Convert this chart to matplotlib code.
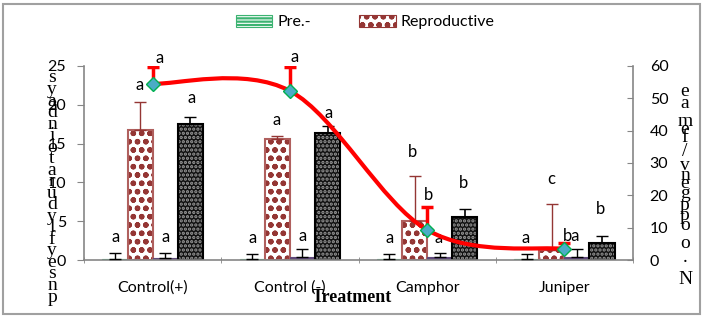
import numpy as np
import matplotlib
matplotlib.use("Agg")
import matplotlib.pyplot as plt
from matplotlib.patches import Rectangle, Patch
from matplotlib.path import Path
from matplotlib.patches import PathPatch

plt.rcParams["hatch.linewidth"] = 1.6

# ---------------- data ----------------
categories = ["Control(+)", "Control (-)", "Camphor", "Juniper"]

pre_vals = [0.1, 0.1, 0.1, 0.1]
pre_err = [0.8, 0.7, 0.7, 0.7]
repro_vals = [16.8, 15.6, 5.0, 1.3]
repro_err = [3.6, 0.4, 5.8, 5.9]
post_vals = [0.2, 0.4, 0.4, 0.4]
post_err = [0.7, 1.0, 0.5, 1.0]
long_vals = [17.5, 16.4, 5.5, 2.2]
long_err = [0.9, 0.9, 1.1, 0.9]

progeny_vals = [54.5, 52.3, 9.3, 3.4]
progeny_err = [5.2, 7.4, 7.1, 1.9]

pre_letters = ["a", "a", "a", "a"]
repro_letters = ["a", "a", "b", "c"]
post_letters = ["a", "a", "a", "ba"]
long_letters = ["a", "a", "b", "b"]
progeny_letters = ["a", "a", "b", ""]

left_ticks = [0, 5, 10, 15, 20, 25]
right_ticks = [0, 10, 20, 30, 40, 50, 60]

# ---------------- figure ----------------
W, H = 703, 318
fig = plt.figure(figsize=(W / 100, H / 100), dpi=100)

def fx(px):
    return px / W

def fy(py):
    return 1 - py / H

ax_l, ax_r, ax_t, ax_b = 84, 633, 66, 260
ax = fig.add_axes([fx(ax_l), fy(ax_b), fx(ax_r) - fx(ax_l), fy(ax_t) - fy(ax_b)])
ax2 = ax.twinx()

tick_font = "Lato"
grey = "#868686"
x = np.arange(len(categories))
w = 0.183

brown = "#943634"
green = "#3cb371"
purple = "#5f497a"

# Pre bars
ax.bar(x - 1.5 * w, pre_vals, w, color="white", edgecolor=green, hatch="-----", linewidth=0.8, zorder=2)
ax.errorbar(x - 1.5 * w, pre_vals, yerr=[np.zeros(4), pre_err], fmt="none", ecolor="black", elinewidth=1, capsize=4, zorder=3)
# Reproductive bars
ax.bar(x - 0.5 * w, repro_vals, w, color="white", edgecolor=brown, hatch="oo", linewidth=0, zorder=2)
ax.bar(x - 0.5 * w, repro_vals, w, color="none", edgecolor="#b0605e", linewidth=1.5, zorder=2)
ax.errorbar(x - 0.5 * w, repro_vals, yerr=[np.zeros(4), repro_err], fmt="none", ecolor=brown, elinewidth=1, capsize=4, zorder=3)
# Post bars
ax.bar(x + 0.5 * w, post_vals, w, color=purple, edgecolor=purple, linewidth=0.8, zorder=2)
ax.errorbar(x + 0.5 * w, post_vals, yerr=[np.zeros(4), post_err], fmt="none", ecolor="black", elinewidth=1, capsize=4, zorder=3)
# Longevity bars (black with light dots)
ax.bar(x + 1.5 * w, long_vals, w, color="#111111", edgecolor="#9a9a9a", hatch="....", linewidth=0, zorder=2)
ax.bar(x + 1.5 * w, long_vals, w, color="none", edgecolor="black", linewidth=1.5, zorder=2)
ax.errorbar(x + 1.5 * w, long_vals, yerr=[np.zeros(4), long_err], fmt="none", ecolor="black", elinewidth=1.2, capsize=4, zorder=3)

ax.set_ylim(0, 25)
ax.set_yticks(left_ticks)
ax.set_xlim(-0.5, 3.5)
ax.set_xticks(x)
ax.set_xticklabels(categories, fontsize=11.5, family=tick_font)
ax.set_xticks([-0.5, 0.5, 1.5, 2.5, 3.5], minor=True)
ax.tick_params(axis="x", which="major", length=0, pad=15)
ax.tick_params(axis="x", which="minor", length=5, color=grey, direction="inout")
ax.tick_params(axis="y", length=5, color=grey, pad=8, labelsize=11.5)
for lab in ax.get_yticklabels():
    lab.set_family(tick_font)
for s in ["top", "right"]:
    ax.spines[s].set_visible(False)
ax.spines["left"].set_color(grey)
ax.spines["bottom"].set_color(grey)
ax.spines["left"].set_linewidth(1.2)
ax.spines["bottom"].set_linewidth(1.2)

# Right axis: smooth line (Catmull-Rom like Excel smoothing)
ax2.set_ylim(0, 60)
ax2.set_yticks(right_ticks)
ax2.tick_params(axis="y", length=4, color=grey, direction="in", pad=12, labelsize=11.5)
for lab in ax2.get_yticklabels():
    lab.set_family(tick_font)
for s in ["top", "left", "bottom"]:
    ax2.spines[s].set_visible(False)
ax2.spines["right"].set_color(grey)
ax2.spines["right"].set_linewidth(1.2)

pts = np.column_stack([x.astype(float), progeny_vals])
verts = [tuple(pts[0])]
codes = [Path.MOVETO]
n = len(pts)
for i in range(n - 1):
    p0 = pts[i - 1] if i > 0 else pts[i]
    p1 = pts[i]
    p2 = pts[i + 1]
    p3 = pts[i + 2] if i + 2 < n else pts[i + 1]
    c1 = p1 + (p2 - p0) / 6
    c2 = p2 - (p3 - p1) / 6
    verts += [tuple(c1), tuple(c2), tuple(p2)]
    codes += [Path.CURVE4] * 3
ax2.add_patch(PathPatch(Path(verts, codes), facecolor="none", edgecolor="#ff0000", lw=3, zorder=4, capstyle="round"))
ax2.errorbar(x, progeny_vals, yerr=[np.zeros(4), progeny_err], fmt="none", ecolor="#ff0000", elinewidth=2.5, capsize=4, capthick=2.5, zorder=4)
ax2.plot(x, progeny_vals, linestyle="none", marker="D", markersize=7, markerfacecolor="#4bacc6", markeredgecolor="#00b050", markeredgewidth=1, zorder=5)

# letters (pixel positions converted to data through the axes)
def put(xpx, ypx, t):
    xd = (xpx - 152) / 136.75
    yd = (ax_b - ypx) / (ax_b - ax_t) * 25
    ax.text(xd, yd, t, ha="center", va="center", fontsize=12, family=tick_font, zorder=6)

letter_px = [(115, 237), (252, 238), (388, 238), (524, 238)]
repro_px = [(139, 85), (276, 120), (411, 152), (549, 179)]
post_px = [(165, 237), (301, 236), (437, 238), (569, 236)]
long_px = [(191, 98), (327, 113), (462, 183), (598, 209)]
prog_px = [(159, 58), (293, 57), (427, 195), (0, 0)]
for i in range(4):
    put(*letter_px[i], pre_letters[i])
    put(*repro_px[i], repro_letters[i])
    put(*post_px[i], post_letters[i])
    put(*long_px[i], long_letters[i])
    if progeny_letters[i]:
        put(*prog_px[i], progeny_letters[i])

# Axis titles (stacked glyphs as in the source)
fig.text(fx(352), fy(297), "Treatment", ha="center", va="center", fontsize=13, fontweight="bold", family="Liberation Serif")

left_chars = list("syadniotarudylfyesnp")
ys = np.linspace(78, 297, len(left_chars))
for c, yy in zip(left_chars, ys):
    fig.text(fx(52), fy(yy), c, ha="center", va="center", fontsize=14, family="Liberation Serif")

right_chars = ["e", "a", "m", "e", "f", "/", "v", "n", "e", "g", "p", "p", "o", "o", ".", "N"]
right_y = [92, 103, 122, 130, 138, 152, 165, 175, 183, 193, 205, 215, 225, 243, 258, 280]
for c, yy in zip(right_chars, right_y):
    fig.text(fx(685), fy(yy), c, ha="center", va="center", fontsize=14, family="Liberation Serif")

# Legend
handles = [
    Patch(facecolor="white", edgecolor=green, hatch="-----", linewidth=0.8),
    Patch(facecolor="white", edgecolor=brown, hatch="oo", linewidth=0.8),
]
fig.legend(handles, ["Pre.-", "Reproductive"], loc="center", bbox_to_anchor=(fx(365), fy(22)), ncol=2,
           frameon=False, prop={"family": tick_font, "size": 11.5}, handlelength=2.3, handleheight=0.8,
           columnspacing=3.0, handletextpad=0.3)

# Outer frame
fig.add_artist(Rectangle((fx(3), fy(314)), fx(700) - fx(3), fy(4) - fy(314), transform=fig.transFigure,
                         fill=False, edgecolor="#a0a0a0", linewidth=1.5))

fig.savefig("out.png", dpi=100)
